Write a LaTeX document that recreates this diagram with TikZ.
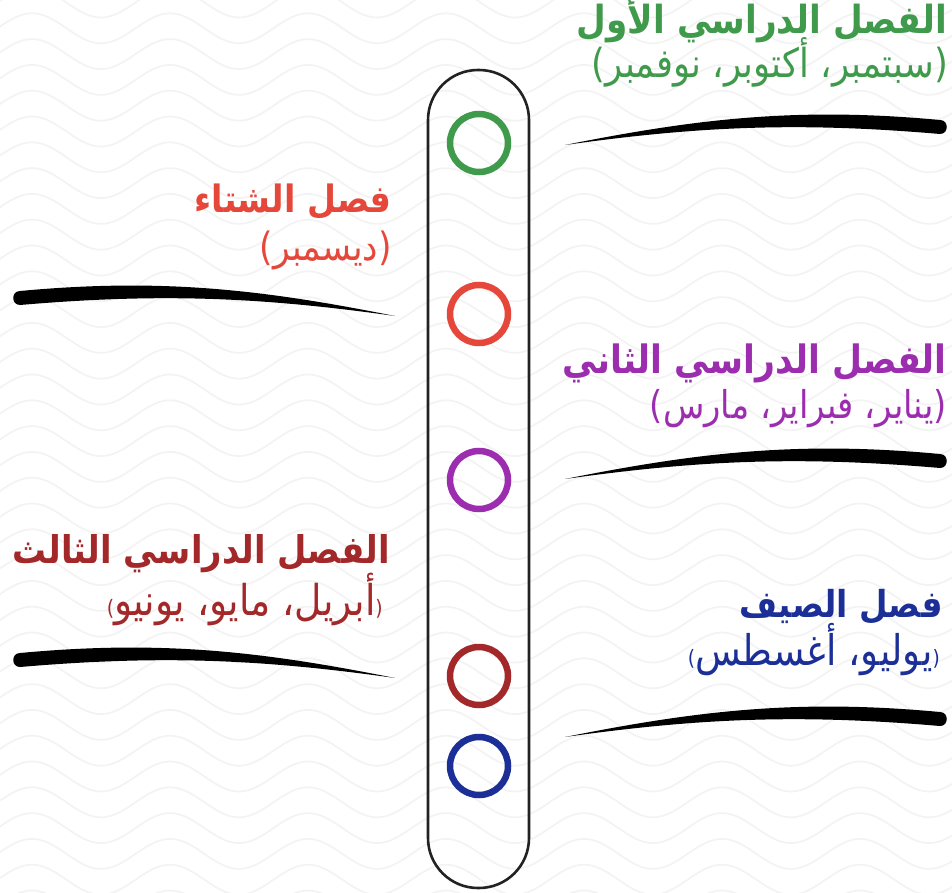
\documentclass[tikz,border=0pt]{standalone}
\usepackage{fontspec}
\usepackage{graphicx}
\newfontfamily\arabicfont[Script=Arabic]{DejaVu Sans}
\TeXXeTstate=1
\definecolor{cgreen}{HTML}{409A4B}
\definecolor{cred}{HTML}{E5483A}
\definecolor{cpurple}{HTML}{9C2DAF}
\definecolor{cdarkred}{HTML}{A3282A}
\definecolor{cblue}{HTML}{1B2F97}
\definecolor{wavegray}{HTML}{F3F3F3}
\definecolor{pillgray}{HTML}{222222}
\newcommand{\arbox}[2]{\scalebox{1}[1.13]{\resizebox{#1}{!}{#2}}}
\tikzset{
  wave/.style={draw=wavegray, line width=1.7pt},
  pill/.style={draw=pillgray, line width=2.6pt, rounded corners=50pt, minimum width=101pt, minimum height=818pt, inner sep=0pt},
  ring/.style={circle, line width=6.5pt, minimum size=58pt, inner sep=0pt},
  titletext/.style={anchor=base east, inner sep=0pt, font=\arabicfont\bfseries},
  subtext/.style={anchor=base east, inner sep=0pt, font=\arabicfont},
  brush/.pic={\fill[black] (0,0) .. controls (135,-27) and (235,-38) .. (375,-25) .. controls (384,-25) and (384,-11) .. (375,-11) .. controls (235,-23) and (135,-19) .. (0,0) -- cycle;}
}
\begin{document}
\begin{tikzpicture}[x=1pt,y=-1pt]
\useasboundingbox (0,0) rectangle (952,893);
\fill[white] (0,0) rectangle (952,893);
\begin{scope}
\clip (0,0) rectangle (952,893);
\foreach \k in {-2,...,36} {
  \draw[wave] plot[domain=-10:962, samples=160, smooth] (\x, {28.3 + \k*25.8 - 15*cos(2.6087*(\x-32))});
}
\end{scope}
\node[pill] (pill) at (478.5,479) {};
\node[ring, draw=cgreen] (r1) at (479,143) {};
\node[ring, draw=cred] (r2) at (479,314) {};
\node[ring, draw=cpurple] (r3) at (479,480) {};
\node[ring, draw=cdarkred] (r4) at (479,676) {};
\node[ring, draw=cblue] (r5) at (479,766) {};
\pic at (565,145) {brush};
\pic at (565,479) {brush};
\pic at (565,737) {brush};
\pic[xscale=-1] at (395,316) {brush};
\pic[xscale=-1] at (395,678) {brush};
\node[titletext, text=cgreen] (t1) at (947,34) {\arbox{370pt}{\beginR الفصل الدراسي الأول\endR}};
\node[subtext, text=cgreen] (s1) at (948,78) {\arbox{356pt}{\beginR (سبتمبر، أكتوبر، نوفمبر)\endR}};
\node[titletext, text=cred] (t2) at (392,213) {\arbox{197pt}{\beginR فصل الشتاء\endR}};
\node[subtext, text=cred] (s2) at (392,260) {\arbox{132pt}{\beginR (ديسمبر)\endR}};
\node[titletext, text=cpurple] (t3) at (947,373) {\arbox{384pt}{\beginR الفصل الدراسي الثاني\endR}};
\node[subtext, text=cpurple] (s3) at (947,418) {\arbox{297pt}{\beginR (يناير، فبراير، مارس)\endR}};
\node[titletext, text=cdarkred] (t4) at (390,563) {\arbox{377pt}{\beginR الفصل الدراسي الثالث\endR}};
\node[subtext, text=cdarkred] (s4) at (383,615) {\arbox{276pt}{\beginR {\tiny (}أبريل، مايو، يونيو{\tiny )}\endR}};
\node[titletext, text=cblue] (t5) at (943,617) {\arbox{203pt}{\beginR فصل الصيف\endR}};
\node[subtext, text=cblue] (s5) at (940,665) {\arbox{252pt}{\beginR {\tiny (}يوليو، أغسطس{\tiny )}\endR}};
\end{tikzpicture}
\end{document}
